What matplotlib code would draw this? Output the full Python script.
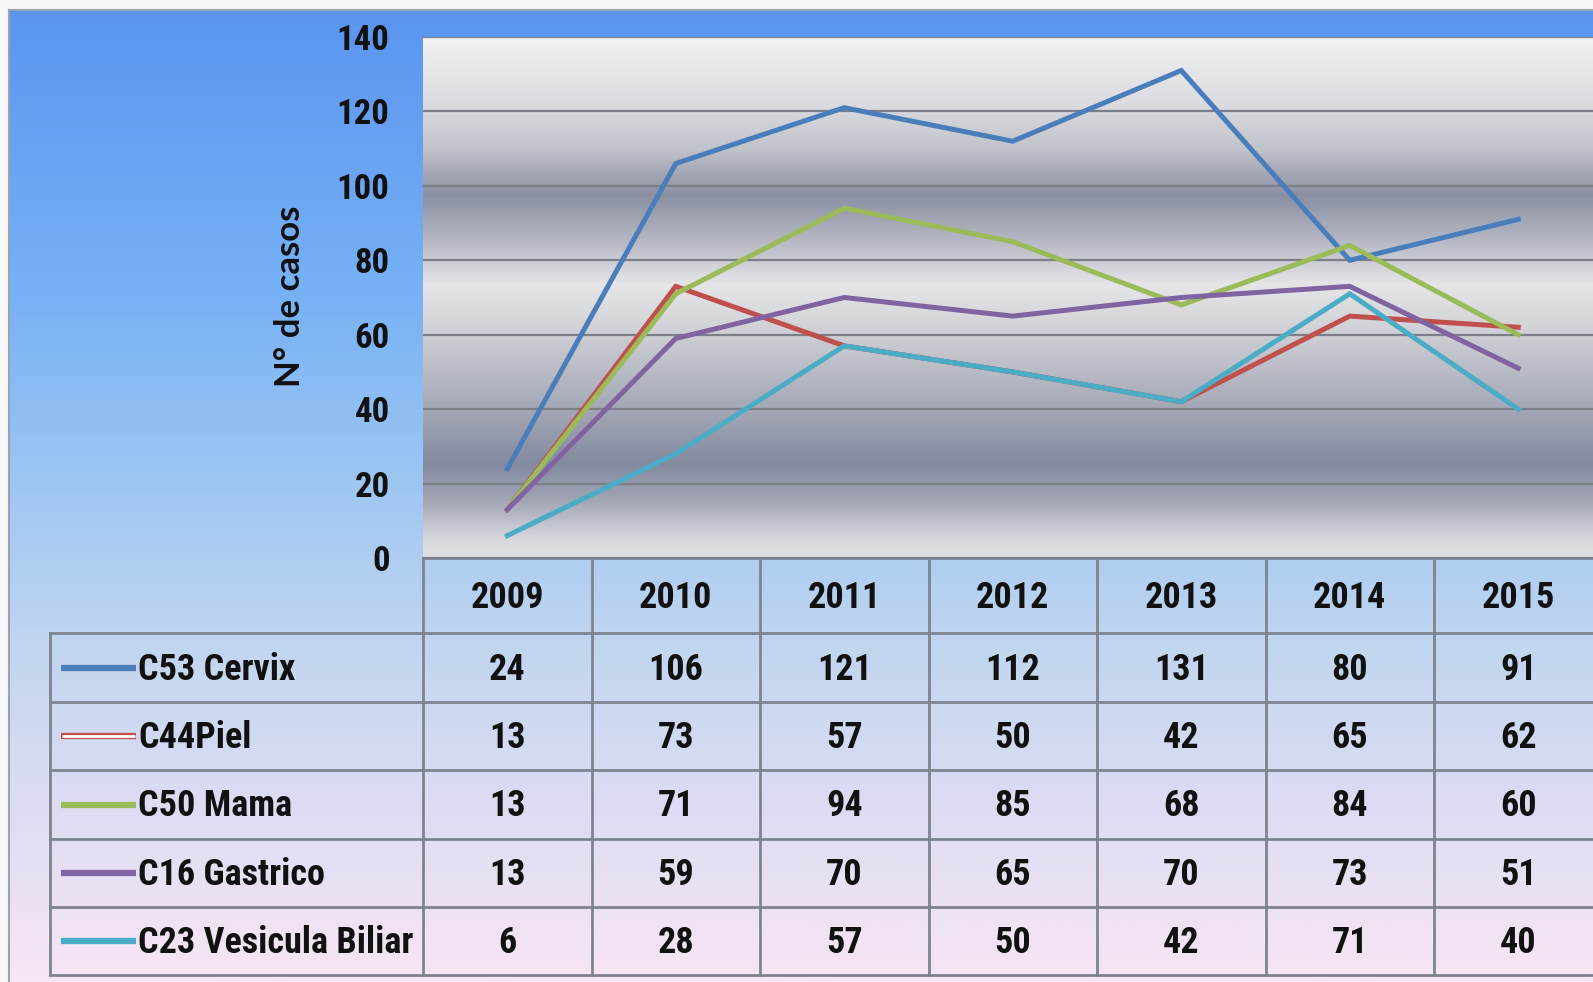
import numpy as np
import matplotlib
matplotlib.use('Agg')
import matplotlib.pyplot as plt
from matplotlib.colors import to_rgb
from matplotlib.transforms import blended_transform_factory
from matplotlib import font_manager

# ---------------- data ----------------
years = ['2009', '2010', '2011', '2012', '2013', '2014', '2015']
series_names = ['C53 Cervix', 'C44Piel', 'C50 Mama', 'C16 Gastrico', 'C23 Vesicula Biliar']
cervix = [24, 106, 121, 112, 131, 80, 91]
piel = [13, 73, 57, 50, 42, 65, 62]
mama = [13, 71, 94, 85, 68, 84, 60]
gastrico = [13, 59, 70, 65, 70, 73, 51]
vesicula = [6, 28, 57, 50, 42, 71, 40]
y_ticks = [0, 20, 40, 60, 80, 100, 120, 140]
y_label = 'N° de casos'

series_values = [cervix, piel, mama, gastrico, vesicula]
series_colors = ['#4a7ebb', '#c0504d', '#9bbb59', '#8064a2', '#4bacc6']

# ---------------- fonts ----------------
available = {f.name for f in font_manager.fontManager.ttflist}
narrow = None
for cand in ['Liberation Sans Narrow', 'Roboto Condensed', 'Open Sans Condensed',
             'DejaVu Sans Condensed', 'Noto Sans Condensed']:
    if cand in available:
        narrow = cand
        break
if narrow is not None:
    FONT = [narrow, 'Lato', 'DejaVu Sans']
    TABLE_FS = 26
    TICK_FS = 25
else:
    FONT = ['Lato', 'DejaVu Sans']
    TABLE_FS = 24
    TICK_FS = 23

# ---------------- layout ----------------
W, H = 1593, 982
plt.rcParams['font.family'] = FONT
plt.rcParams['font.weight'] = 'bold'

fig = plt.figure(figsize=(W / 100, H / 100), dpi=100)
fig.patch.set_facecolor('#f7f7f7')

# background axes in pixel coordinates (y downwards)
bg = fig.add_axes([0, 0, 1, 1], zorder=-10)
bg.set_axis_off()
stops_y = [10, 40, 300, 500, 650, 800, 982]
stops_c = ['#5a94ee', '#5d98f0', '#78b2f6', '#a2c8f2', '#c2d6ef', '#dcdcf3', '#f8e6f3']
ys = np.arange(10, H + 1)
img = np.zeros((len(ys), 1, 3))
for k in range(3):
    img[:, 0, k] = np.interp(ys, stops_y, [to_rgb(c)[k] for c in stops_c])
bg.imshow(img, extent=[9, W, H, 10], aspect='auto', interpolation='bilinear')
bg.set_xlim(0, W)
bg.set_ylim(H, 0)
frame_col = '#9ca2b2'
bg.plot([9, 9], [10, H], color=frame_col, lw=1.5)
bg.plot([9, W], [10, 10], color=frame_col, lw=1.5)

# main plot axes
ax = fig.add_axes([423 / W, 1 - 558 / H, 1179.5 / W, 521 / H], zorder=1)

pstops_y = [37, 108, 150, 195, 240, 285, 330, 380, 465, 500, 540, 558]
pstops_c = ['#f2f2f4', '#d9dadf', '#c0c2ca', '#8a8fa2', '#b5b8c3', '#e6e6e9',
            '#d0d1d6', '#b4b7c2', '#848aa0', '#a0a4b4', '#d8d9de', '#e0e0e4']
pys = np.arange(37, 559)
pimg = np.zeros((len(pys), 1, 3))
for k in range(3):
    pimg[:, 0, k] = np.interp(pys, pstops_y, [to_rgb(c)[k] for c in pstops_c])
ax.imshow(pimg, extent=[-0.5, 6.5, 0, 140], aspect='auto', interpolation='bilinear', zorder=0)
ax.set_xlim(-0.5, 6.5)
ax.set_ylim(0, 140)

x = np.arange(len(years))
for vals, col in zip(series_values, series_colors):
    ax.plot(x, vals, color=col, lw=3.6, solid_joinstyle='miter', zorder=3)

ax.set_yticks(y_ticks)
ax.set_yticklabels([str(t) for t in y_ticks])
ax.yaxis.grid(True, color='#7c7f88', lw=1.6)
ax.set_xticks([])
ax.tick_params(axis='y', length=0, pad=24, labelsize=TICK_FS, labelcolor='#111111')
for s in ax.spines.values():
    s.set_visible(False)

# ---------------- data table ----------------
trans = blended_transform_factory(ax.transData, bg.transData)
line_col = '#7e848f'
row_edges = [633, 702, 770, 839, 907, 975]
header_top = 558
txt_col = '#111111'

bg.plot([-0.5, 6.5], [header_top, header_top], color=line_col, lw=2, transform=trans, clip_on=False)
for i, yr in enumerate(years):
    bg.text(i, (header_top + row_edges[0]) / 2 + 2, yr, transform=trans, ha='center', va='center',
            fontsize=TABLE_FS, color=txt_col)
for ye in row_edges:
    bg.plot([50, W], [ye, ye], color=line_col, lw=2)
for b in np.arange(-0.5, 6.0, 1.0):
    bg.plot([b, b], [header_top, row_edges[-1]], color=line_col, lw=2, transform=trans)
bg.plot([50, 50], [row_edges[0], row_edges[-1]], color=line_col, lw=2)

for r, (name, vals, col) in enumerate(zip(series_names, series_values, series_colors)):
    yc = (row_edges[r] + row_edges[r + 1]) / 2
    bg.plot([61, 136], [yc, yc], color=col, lw=4.5, solid_capstyle='butt')
    if name == 'C44Piel':
        bg.plot([62, 135], [yc, yc], color='white', lw=2, solid_capstyle='butt')
    bg.text(138, yc + 2, name, ha='left', va='center', fontsize=TABLE_FS, color=txt_col)
    for i, v in enumerate(vals):
        bg.text(i, yc + 2, str(v), transform=trans, ha='center', va='center',
                fontsize=TABLE_FS, color=txt_col)

bg.text(290, 296, y_label, rotation=90, ha='center', va='center', fontsize=25,
        color=txt_col, family=['Lato', 'DejaVu Sans'])

fig.savefig('out.png', dpi=100)
